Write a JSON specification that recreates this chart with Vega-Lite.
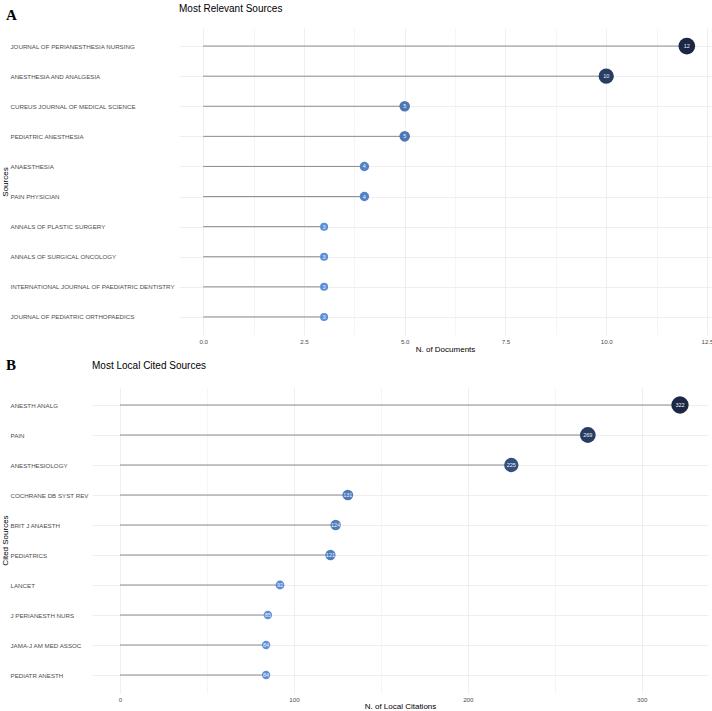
{
  "$schema": "https://vega.github.io/schema/vega-lite/v6.json",
  "background": "white",
  "padding": {"left": 0, "top": 4, "right": 0, "bottom": 0},
  "config": {
    "view": {"stroke": null},
    "font": "Liberation Sans",
    "axis": {
      "labelFont": "Liberation Sans",
      "titleFont": "Liberation Sans",
      "gridColor": "#ebebeb",
      "gridWidth": 0.8,
      "domain": false,
      "ticks": false,
      "labelColor": "#4d4d4d",
      "titleColor": "#000000",
      "titleFontWeight": "normal"
    }
  },
  "spacing": 4,
  "resolve": {"scale": {"color": "independent", "size": "independent"}},
  "vconcat": [
    {
      "title": {"text": "A", "anchor": "start", "frame": "bounds", "font": "Liberation Serif", "fontWeight": "bold", "fontSize": 15, "color": "#000000", "dx": 6, "offset": -19},
      "spacing": 0,
      "resolve": {"scale": {"color": "independent", "size": "independent"}},
      "hconcat": [
        {"width": 1, "height": 1, "data": {"values": []}, "mark": "point"},
        {
          "width": 532,
          "height": 307,
          "title": {"text": "Most Relevant Sources", "anchor": "start", "frame": "group", "fontSize": 10, "fontWeight": "normal", "font": "Liberation Sans", "color": "#000000", "offset": 14},
          "data": {"values": [
            {"source": "JOURNAL OF PERIANESTHESIA NURSING", "docs": 12},
            {"source": "ANESTHESIA AND ANALGESIA", "docs": 10},
            {"source": "CUREUS JOURNAL OF MEDICAL SCIENCE", "docs": 5},
            {"source": "PEDIATRIC ANESTHESIA", "docs": 5},
            {"source": "ANAESTHESIA", "docs": 4},
            {"source": "PAIN PHYSICIAN", "docs": 4},
            {"source": "ANNALS OF PLASTIC SURGERY", "docs": 3},
            {"source": "ANNALS OF SURGICAL ONCOLOGY", "docs": 3},
            {"source": "INTERNATIONAL JOURNAL OF PAEDIATRIC DENTISTRY", "docs": 3},
            {"source": "JOURNAL OF PEDIATRIC ORTHOPAEDICS", "docs": 3}
          ]},
          "layer": [
            {
              "mark": {"type": "rule", "color": "#8c8c8c", "strokeWidth": 1},
              "encoding": {
                "y": {"field": "source", "type": "nominal", "sort": null, "scale": {"type": "point", "padding": 0.6},
                  "axis": {"title": "Sources", "labelAlign": "left", "labelPadding": 169, "labelFontSize": 6.2, "titleFontSize": 8, "titlePadding": 1, "grid": true, "labelLimit": 0}},
                "x": {"field": "docs", "type": "quantitative", "scale": {"domain": [-0.6, 12.6], "nice": false, "zero": false},
                  "axis": {"values": [0, 2.5, 5, 7.5, 10, 12.5], "format": ".1f", "title": "N. of Documents", "grid": true, "labelFontSize": 6.2, "titleFontSize": 8, "labelPadding": 3, "titlePadding": 1}},
                "x2": {"datum": 0}
              }
            },
            {
              "mark": {"type": "circle", "opacity": 1},
              "encoding": {
                "y": {"field": "source", "type": "nominal", "sort": null},
                "x": {"field": "docs", "type": "quantitative",
                  "axis": {"orient": "top", "values": [1.25, 3.75, 6.25, 8.75, 11.25], "labels": false, "title": null, "grid": true, "gridColor": "#f3f3f3", "domain": false, "ticks": false}},
                "color": {"field": "docs", "type": "quantitative", "scale": {"domain": [3, 12], "range": ["#5b90d8", "#1a2846"], "interpolate": "lab"}, "legend": null},
                "size": {"field": "docs", "type": "quantitative", "scale": {"domain": [3, 12], "range": [64, 280]}, "legend": null}
              }
            },
            {
              "mark": {"type": "text", "color": "#f0f0f0", "fontSize": 5.5},
              "encoding": {
                "y": {"field": "source", "type": "nominal", "sort": null},
                "x": {"field": "docs", "type": "quantitative", "axis": null},
                "text": {"field": "docs", "type": "quantitative"}
              }
            }
          ],
          "resolve": {"axis": {"x": "independent"}}
        }
      ]
    },
    {
      "title": {"text": "B", "anchor": "start", "frame": "bounds", "font": "Liberation Serif", "fontWeight": "bold", "fontSize": 15, "color": "#000000", "dx": 6, "offset": -12},
      "spacing": 0,
      "resolve": {"scale": {"color": "independent", "size": "independent"}},
      "hconcat": [
        {"width": 1, "height": 1, "data": {"values": []}, "mark": "point"},
        {
          "width": 616,
          "height": 306,
          "title": {"text": "Most Local Cited Sources", "anchor": "start", "frame": "group", "fontSize": 10, "fontWeight": "normal", "font": "Liberation Sans", "color": "#000000", "offset": 16},
          "data": {"values": [
            {"source": "ANESTH ANALG", "cites": 322},
            {"source": "PAIN", "cites": 269},
            {"source": "ANESTHESIOLOGY", "cites": 225},
            {"source": "COCHRANE DB SYST REV", "cites": 131},
            {"source": "BRIT J ANAESTH", "cites": 124},
            {"source": "PEDIATRICS", "cites": 121},
            {"source": "LANCET", "cites": 92},
            {"source": "J PERIANESTH NURS", "cites": 85},
            {"source": "JAMA-J AM MED ASSOC", "cites": 84},
            {"source": "PEDIATR ANESTH", "cites": 84}
          ]},
          "layer": [
            {
              "mark": {"type": "rule", "color": "#8c8c8c", "strokeWidth": 1},
              "encoding": {
                "y": {"field": "source", "type": "nominal", "sort": null, "scale": {"type": "point", "padding": 0.6},
                  "axis": {"title": "Cited Sources", "labelAlign": "left", "labelPadding": 82, "labelFontSize": 6.2, "titleFontSize": 8, "titlePadding": 1, "grid": true, "labelLimit": 0}},
                "x": {"field": "cites", "type": "quantitative", "scale": {"domain": [-16.1, 338.1], "nice": false, "zero": false},
                  "axis": {"values": [0, 100, 200, 300], "title": "N. of Local Citations", "grid": true, "labelFontSize": 6.2, "titleFontSize": 8, "labelPadding": 3, "titlePadding": 0}},
                "x2": {"datum": 0}
              }
            },
            {
              "mark": {"type": "circle", "opacity": 1},
              "encoding": {
                "y": {"field": "source", "type": "nominal", "sort": null},
                "x": {"field": "cites", "type": "quantitative",
                  "axis": {"orient": "top", "values": [50, 150, 250], "labels": false, "title": null, "grid": true, "gridColor": "#f3f3f3", "domain": false, "ticks": false}},
                "color": {"field": "cites", "type": "quantitative", "scale": {"domain": [84, 322], "range": ["#5b90d8", "#1a2846"], "interpolate": "lab"}, "legend": null},
                "size": {"field": "cites", "type": "quantitative", "scale": {"domain": [84, 322], "range": [70, 300]}, "legend": null}
              }
            },
            {
              "mark": {"type": "text", "color": "#f0f0f0", "fontSize": 5.5},
              "encoding": {
                "y": {"field": "source", "type": "nominal", "sort": null},
                "x": {"field": "cites", "type": "quantitative", "axis": null},
                "text": {"field": "cites", "type": "quantitative"}
              }
            }
          ],
          "resolve": {"axis": {"x": "independent"}}
        }
      ]
    }
  ]
}
